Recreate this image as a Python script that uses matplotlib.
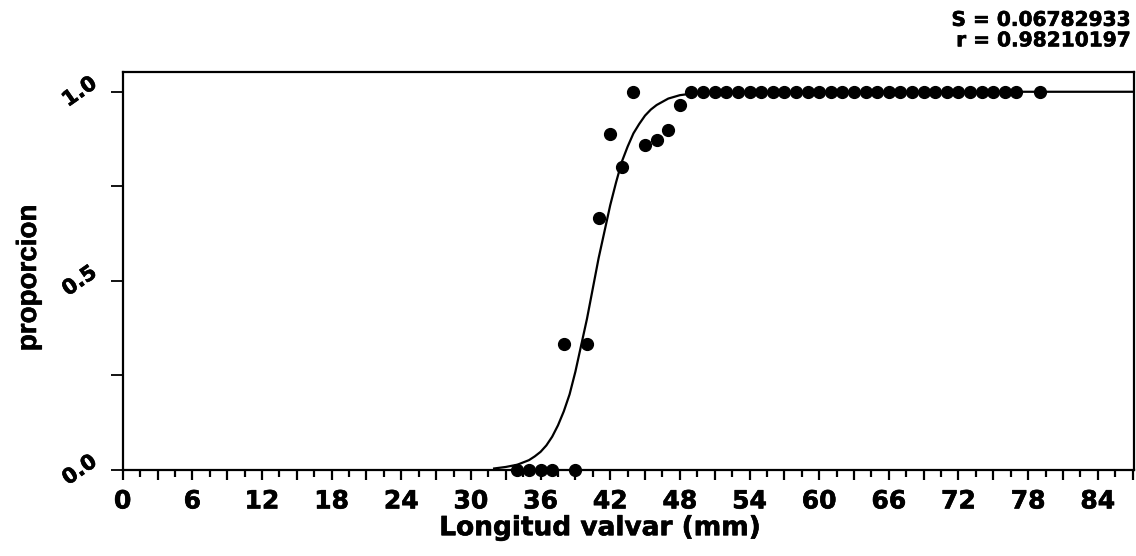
import matplotlib
matplotlib.use("Agg")
import matplotlib.pyplot as plt
import matplotlib.patheffects as pe
import numpy as np
from matplotlib.ticker import MultipleLocator, FixedLocator

long_mm = [34, 35, 36, 37, 38, 39, 40, 41, 42, 43, 44, 45, 46, 47, 48,
           49, 50, 51, 52, 53, 54, 55, 56, 57, 58, 59, 60, 61, 62, 63, 64,
           65, 66, 67, 68, 69, 70, 71, 72, 73, 74, 75, 76, 77, 79]
prop = [0.0, 0.0, 0.0, 0.0, 0.333, 0.0, 0.333, 0.667, 0.889, 0.80, 1.0, 0.86, 0.873, 0.90, 0.964,
        1.0, 1.0, 1.0, 1.0, 1.0, 1.0, 1.0, 1.0, 1.0, 1.0, 1.0, 1.0, 1.0, 1.0, 1.0, 1.0,
        1.0, 1.0, 1.0, 1.0, 1.0, 1.0, 1.0, 1.0, 1.0, 1.0, 1.0, 1.0, 1.0, 1.0]

# fitted curve, points
curve_x = [32, 33, 34, 35, 35.5, 36, 36.5, 37, 37.5, 38, 38.5, 39, 39.5, 40, 40.5, 41,
           41.5, 42, 42.5, 43, 43.5, 44, 44.5, 45, 45.5, 46, 47, 48, 49, 50, 52, 55, 60, 87]
curve_y = [0.004, 0.008, 0.014, 0.026, 0.036, 0.048, 0.065, 0.088, 0.118, 0.155, 0.20,
           0.26, 0.33, 0.40, 0.48, 0.56, 0.63, 0.70, 0.76, 0.815, 0.855, 0.89, 0.915,
           0.937, 0.953, 0.965, 0.982, 0.991, 0.995, 0.998, 0.999, 1.0, 1.0, 1.0]

x_ticks = list(range(0, 88, 3))
x_labels = [str(t) if t % 6 == 0 else '' for t in x_ticks]
y_ticks = [0.0, 0.5, 1.0]
y_labels = ['0.0', '0.5', '1.0']

stats_txt = "S = 0.06782933\nr = 0.98210197"

plt.rcParams['font.family'] = ['DejaVu Sans']
heavy = [pe.withStroke(linewidth=0.45, foreground='black')]

fig = plt.figure(figsize=(11.36, 5.56), dpi=100)
ax = fig.add_axes([0.108, 0.1547, 0.890, 0.7163])

ax.plot(curve_x, curve_y, color='black', lw=1.6, zorder=2)
ax.plot(long_mm, prop, 'o', color='black', ms=8.5, mec='black', clip_on=False, zorder=3)

ax.set_xlim(0, 87.1)
ax.set_ylim(0, 1.053)

ax.xaxis.set_major_locator(FixedLocator(x_ticks))
ax.set_xticklabels(x_labels, fontsize=18, fontweight='bold')
ax.xaxis.set_minor_locator(MultipleLocator(1.5))
ax.tick_params(axis='x', which='major', length=7, width=1.6, pad=7)
ax.tick_params(axis='x', which='minor', length=5, width=1.6)

ax.set_yticks(y_ticks)
ax.set_yticklabels(y_labels, fontsize=15, fontweight='bold', rotation=35, va='center', ha='right')
ax.yaxis.set_minor_locator(FixedLocator([0.25, 0.75]))
ax.tick_params(axis='y', which='both', length=9, width=1.3, pad=7)

for lab in ax.get_xticklabels() + ax.get_yticklabels():
    lab.set_path_effects(heavy)

for s in ax.spines.values():
    s.set_linewidth(1.6)

fig.text(29 / 1136, 0.5, 'proporcion', fontsize=20, fontweight='bold',
         family=['Liberation Sans', 'DejaVu Sans'], rotation=90, ha='center', va='center',
         path_effects=heavy)
fig.text(600 / 1136, 0.05, 'Longitud valvar (mm)', fontsize=19, fontweight='bold',
         ha='center', va='center', path_effects=heavy)
fig.text(0.995, 0.945, stats_txt, fontsize=14.5, fontweight='bold', ha='right', va='center',
         linespacing=1.1, path_effects=heavy)

fig.savefig('out.png', dpi=100)
